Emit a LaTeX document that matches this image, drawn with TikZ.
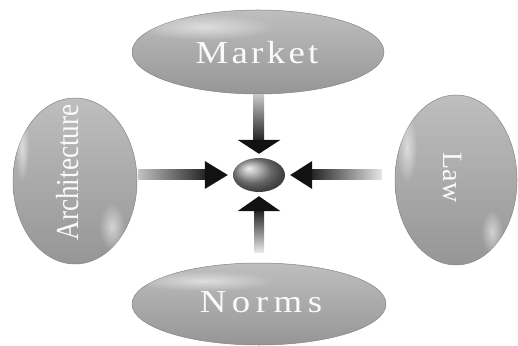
\documentclass[tikz,border=0pt]{standalone}
\usepackage{fontspec}
\usepackage{graphicx}
\setmainfont{Liberation Serif}
\newfontfamily\mktfont[LetterSpace=9]{Liberation Serif}
\newfontfamily\nrmfont[LetterSpace=15]{Liberation Serif}
\usetikzlibrary{shapes.geometric,calc,fadings}
\tikzfading[name=softspot, inner color=transparent!0, outer color=transparent!100]
\definecolor{ovtop}{RGB}{190,190,190}
\definecolor{ovbot}{RGB}{150,150,150}
\definecolor{ovrim}{RGB}{132,132,132}
\definecolor{shlight}{RGB}{200,200,200}
\definecolor{headc}{RGB}{18,18,18}
\definecolor{txt}{RGB}{250,250,250}
\begin{document}
\begin{tikzpicture}[x=1pt,y=1pt,
  oval/.style={ellipse, inner sep=0pt, top color=ovtop, bottom color=ovbot, draw=ovrim, line width=0.5pt},
  lbl/.style={text=txt, inner sep=0pt},
  gloss/.style={fill=white, path fading=softspot, fill opacity=0.55, draw=none},
  headtri/.style={fill=headc, draw=none}]
\useasboundingbox (0,0) rectangle (518,345);
% ovals
\node[oval, minimum width=252pt, minimum height=84pt] (mkt) at (258,293) {};
\node[oval, minimum width=124pt, minimum height=166pt] (arch) at (75,164) {};
\node[oval, minimum width=122pt, minimum height=170pt] (law) at (456,165) {};
\node[oval, minimum width=254pt, minimum height=82pt] (nrm) at (259,41) {};
% glossy highlights
\fill[gloss] (205,318) ellipse [x radius=70, y radius=13];
\fill[gloss] (205,64) ellipse [x radius=70, y radius=10];
\fill[gloss] (22,197) ellipse [x radius=7, y radius=34];
\fill[gloss] (112,118) ellipse [x radius=13, y radius=24];
\fill[gloss] (407,197) ellipse [x radius=10, y radius=35];
\fill[gloss] (492,113) ellipse [x radius=11, y radius=22];
% centre ball
\node[ellipse, minimum width=52pt, minimum height=34pt, inner sep=0pt, ball color=gray!85] (ball) at (259,170) {};
% labels
\node[lbl, font=\mktfont\fontsize{32}{34}\selectfont] (mktlbl) at (257,292) {\scalebox{1.15}[1]{Market}};
\node[lbl, rotate=90, font=\fontsize{32}{34}\selectfont] (archlbl) at (67.5,172.5) {\scalebox{0.85}[1]{Architecture}};
\node[lbl, rotate=-90, font=\fontsize{28}{30}\selectfont] (lawlbl) at (452.5,167.5) {Law};
\node[lbl, font=\nrmfont\fontsize{32}{34}\selectfont] (nrmlbl) at (261,42.5) {\scalebox{1.15}[1]{Norms}};
% arrow from Market (top)
\shade[top color=shlight, bottom color=black!85] ($(mkt.south)+(-5,0)$) rectangle ($(ball.north)+(5,18)$);
\fill[headtri] ($(ball.north)+(-21.5,18)$) -- ($(ball.north)+(21.5,18)$) -- ($(ball.north)+(0,4)$) -- cycle;
% arrow from Norms (bottom)
\shade[top color=black!85, bottom color=white!85!gray] ($(ball.south)+(-5,-19)$) rectangle ($(nrm.north)+(5,10)$);
\fill[headtri] ($(ball.south)+(-21.5,-19)$) -- ($(ball.south)+(21.5,-19)$) -- ($(ball.south)+(0,-4)$) -- cycle;
% arrow from Architecture (left)
\shade[left color=shlight!90!gray, right color=black!85] ($(arch.east |- ball.west)+(1,-5)$) rectangle ($(ball.west)+(-28,5)$);
\fill[headtri] ($(ball.west)+(-28,14)$) -- ($(ball.west)+(-28,-14)$) -- ($(ball.west)+(-5,0)$) -- cycle;
% arrow from Law (right)
\shade[left color=black!85, right color=white!80!gray] ($(ball.east)+(27,-5)$) rectangle ($(law.west |- ball.east)+(-13,5)$);
\fill[headtri] ($(ball.east)+(27,14)$) -- ($(ball.east)+(27,-14)$) -- ($(ball.east)+(5,0)$) -- cycle;
\end{tikzpicture}
\end{document}
